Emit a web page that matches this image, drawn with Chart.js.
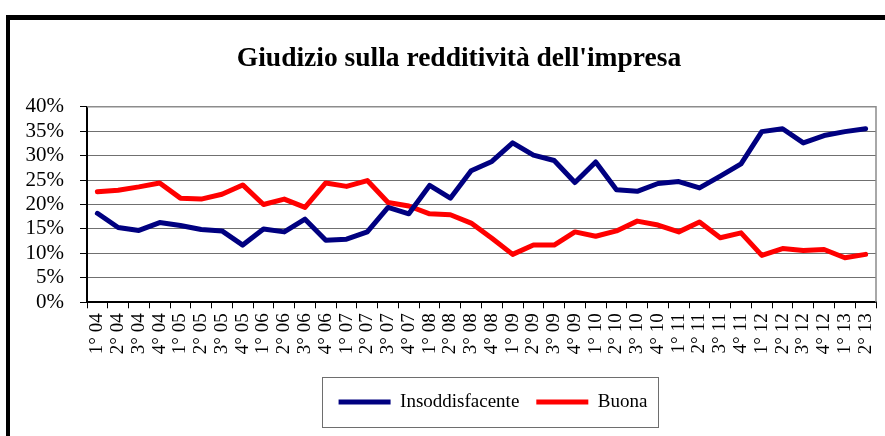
<!DOCTYPE html>
<html><head><meta charset="utf-8">
<script src="https://cdn.jsdelivr.net/npm/chart.js@4.4.0/dist/chart.umd.min.js"></script>
<style>html,body{margin:0;padding:0;background:#fff;overflow:hidden}</style>
</head><body>
<canvas id="c" width="885" height="436"></canvas>
<script>
const categories = ["1° 04","2° 04","3° 04","4° 04","1° 05","2° 05","3° 05","4° 05","1° 06","2° 06","3° 06","4° 06","1° 07","2° 07","3° 07","4° 07","1° 08","2° 08","3° 08","4° 08","1° 09","2° 09","3° 09","4° 09","1° 10","2° 10","3° 10","4° 10","1° 11","2° 11","3° 11","4° 11","1° 12","2° 12","3° 12","4° 12","1° 13","2° 13"];
const insoddisfacente = [18.2,15.3,14.7,16.3,15.7,14.9,14.6,11.7,15.0,14.4,17.0,12.7,12.9,14.4,19.4,18.1,23.9,21.3,26.9,28.8,32.6,30.1,29.0,24.5,28.7,23.0,22.7,24.3,24.7,23.4,25.8,28.3,34.9,35.5,32.6,34.1,34.9,35.5];
const buona = [22.6,22.9,23.6,24.4,21.3,21.1,22.1,24.0,20.0,21.1,19.4,24.4,23.7,24.9,20.4,19.7,18.1,17.9,16.2,13.1,9.8,11.7,11.7,14.4,13.5,14.6,16.6,15.8,14.4,16.4,13.2,14.2,9.6,11.0,10.6,10.8,9.1,9.8];
const yTickValues = [0,5,10,15,20,25,30,35,40];
const titleText = "Giudizio sulla redditività dell'impresa";
const seriesNames = ["Insoddisfacente","Buona"];

const frame = {
  id:'frame',
  afterLayout(chart){
    if(chart.titleBlock){ chart.titleBlock.left += 16; chart.titleBlock.right += 16; }
    if(chart.legend){ chart.legend.left += 50; chart.legend.right += 50; }
  },
  beforeDraw(chart){
    const ctx = chart.ctx;
    ctx.save();
    ctx.fillStyle = '#fff';
    ctx.fillRect(0,0,chart.width,chart.height);
    ctx.fillStyle = '#000';
    ctx.fillRect(6,15,chart.width,5);
    ctx.fillRect(6,15,4,chart.height);
    ctx.restore();
  },
  beforeDatasetsDraw(chart){
    const a = chart.chartArea, ctx = chart.ctx;
    ctx.save();
    ctx.strokeStyle = '#8c8c8c';
    ctx.lineWidth = 1.5;
    ctx.beginPath();
    ctx.moveTo(a.left, a.top);
    ctx.lineTo(a.right, a.top);
    ctx.lineTo(a.right, a.bottom);
    ctx.stroke();
    ctx.restore();
  },
  afterDraw(chart){
    const lg = chart.legend;
    if(!lg || !lg.legendHitBoxes || !lg.legendHitBoxes.length) return;
    const hb = lg.legendHitBoxes;
    const first = hb[0], last = hb[hb.length-1];
    const cy = first.top + first.height/2;
    const ctx = chart.ctx;
    ctx.save();
    ctx.strokeStyle = '#6e6e6e';
    ctx.lineWidth = 1;
    ctx.strokeRect(Math.round(first.left-17)+0.5, Math.round(cy-25)+0.5, Math.round(last.left+last.width+10-(first.left-17)), 50);
    ctx.restore();
  }
};

new Chart(document.getElementById('c'), {
  type:'line',
  data:{
    labels:categories,
    datasets:[
      {label:seriesNames[0], data:insoddisfacente, borderColor:'#000080', backgroundColor:'#000080', borderWidth:5, pointRadius:0, tension:0, borderCapStyle:'round', borderJoinStyle:'round'},
      {label:seriesNames[1], data:buona, borderColor:'#ff0000', backgroundColor:'#ff0000', borderWidth:5, pointRadius:0, tension:0, borderCapStyle:'round', borderJoinStyle:'round'}
    ]
  },
  options:{
    responsive:false,
    animation:false,
    events:[],
    layout:{padding:{left:10,right:9,top:20,bottom:14.5}},
    plugins:{
      title:{display:true,text:titleText,color:'#000',font:{family:'Liberation Serif',size:27.5,weight:'bold'},padding:{top:22.8,bottom:30.9}},
      legend:{position:'bottom',labels:{color:'#000',font:{family:'Liberation Serif',size:19},usePointStyle:true,pointStyle:'line',pointStyleWidth:52,boxWidth:52,boxHeight:17,padding:17}},
      tooltip:{enabled:false}
    },
    scales:{
      x:{
        offset:true,
        grid:{offset:true,drawOnChartArea:false,color:'#000',tickLength:6,tickWidth:1},
        border:{color:'#000',width:2},
        ticks:{color:'#000',font:{family:'Liberation Serif',size:19},minRotation:90,maxRotation:90,autoSkip:false,padding:5},
        afterFit(s){ s.height = 73.2; s.paddingRight = 0; s.paddingLeft = 0; }
      },
      y:{
        min:0,max:40,
        afterBuildTicks(s){ s.ticks = yTickValues.map(v=>({value:v})); },
        grid:{color:'#707070',lineWidth:1,tickLength:7,tickColor:'#000'},
        border:{color:'#000',width:2},
        ticks:{color:'#000',font:{family:'Liberation Serif',size:21},padding:16,autoSkip:false,callback:v=>v+'%'},
        afterFit(s){ s.width = 77; }
      }
    }
  },
  plugins:[frame]
});
</script>
</body></html>
